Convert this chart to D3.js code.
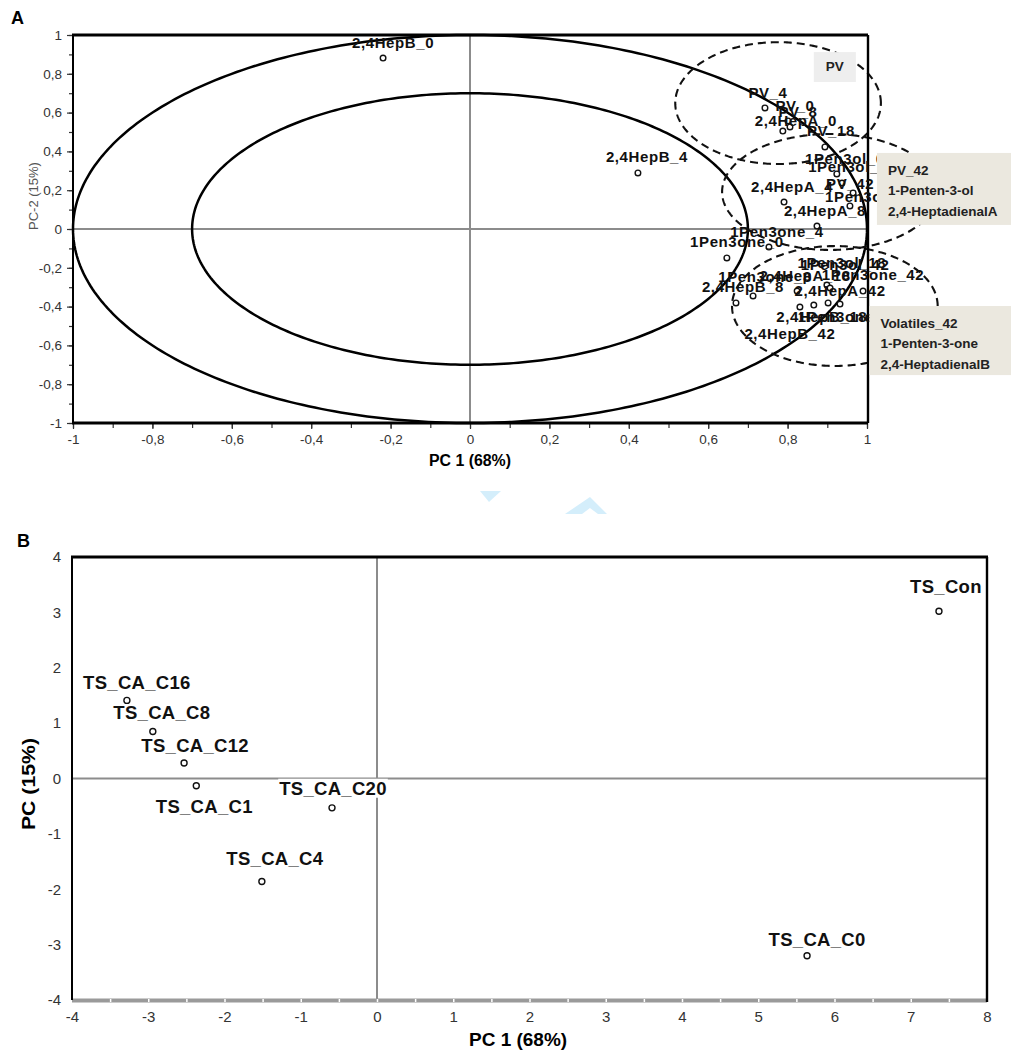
<!DOCTYPE html>
<html><head><meta charset="utf-8">
<script src="https://cdn.jsdelivr.net/npm/d3@7"></script>
<style>
body{margin:0;background:#fff}
svg{display:block}
text{font-family:"Liberation Sans",Arial,sans-serif}
</style></head>
<body><svg id="c" width="1011" height="1053"></svg>
<script>
// ---------------- DATA : panel A (loadings) ----------------
const loadingNames = ["2,4HepB_0","2,4HepB_4","PV_4","PV_0","PV_8","2,4HepA_0","PV_18",
  "1Pen3ol_0","1Pen3ol_4","2,4HepA_4","PV_42","1Pen3ol_8","2,4HepA_8","1Pen3one_4","1Pen3one_0",
  "1Pen3ol_18","1Pen3ol_42","1Pen3one_8","2,4HepA_18","1Pen3one_42","2,4HepB_8","2,4HepA_42",
  "2,4HepB_18","1Pen3one_18","2,4HepB_42"];
const loadingPC1 = [-0.219,0.423,0.743,0.801,0.806,0.788,0.894,
  0.924,0.937,0.791,0.965,0.957,0.874,0.753,0.647,
  0.899,0.907,0.713,0.824,0.990,0.670,0.902,
  0.866,0.932,0.831];
const loadingPC2 = [0.881,0.289,0.624,0.557,0.526,0.505,0.423,
  0.284,0.237,0.139,0.186,0.119,0.015,-0.093,-0.149,
  -0.289,-0.304,-0.345,-0.320,-0.320,-0.381,-0.381,
  -0.392,-0.387,-0.402];
// label nudges (px) relative to the point – layout only
const loadingLabelNudge = [[10,-14],[9,-15],[3,-14],[7,-14],[8,-14],[13,-9],[6,-15],
  [8,-14],[6,-15],[8,-14],[-3,-8],[15,-8],[8,-14],[8,-14],[10,-15],
  [15,-21],[15,-22],[12,-18],[8,-14],[10,-15],[7,-15],[12,-11],
  [8,13],[9,14],[-10,28]];
const corrCircleRadii = [1, 0.7];
const groupCx = [0.776, 0.907, 0.919];
const groupCy = [0.649, 0.191, -0.397];
const groupRx = [0.259, 0.272, 0.259];
const groupRy = [0.314, 0.299, 0.309];
const noteLines = [["PV"],["PV_42","1-Penten-3-ol","2,4-HeptadienalA"],["Volatiles_42","1-Penten-3-one","2,4-HeptadienalB"]];
const noteX0 = [0.866, 1.025, 1.006];
const noteX1 = [0.972, 1.37, 1.37];
const noteY0 = [0.912, 0.392, -0.397];
const noteY1 = [0.758, 0.021, -0.753];
const noteFill = ["#eeeeee","#ebe8df","#ebe8df"];
const ticksA = d3.range(-10, 11, 2).map(d => d / 10);
const minorTicksA = d3.range(-10, 11).map(d => d / 10);

// ---------------- DATA : panel B (scores) ----------------
const sampleNames = ["TS_Con","TS_CA_C16","TS_CA_C8","TS_CA_C12","TS_CA_C1","TS_CA_C20","TS_CA_C4","TS_CA_C0"];
const samplePC1 = [7.37,-3.28,-2.94,-2.53,-2.37,-0.59,-1.51,5.64];
const samplePC2 = [3.02,1.41,0.85,0.28,-0.13,-0.53,-1.86,-3.20];
const sampleLabelNudge = [[7,-23],[10,-16],[9,-17],[11,-16],[8,22],[1,-18],[13,-21],[10,-15]];
const ticksBx = d3.range(-4, 9);
const minorTicksBx = d3.range(-8, 17).map(d => d / 2);
const ticksBy = d3.range(-4, 5);

const fmt = d => d3.format("~g")(d).replace(".", ",").replace("\u2212", "-");
const svg = d3.select("#c");

// faint page watermark (decoration between panels)
svg.append("path").attr("d", "M480,491 L501,491 L489,502 Z").attr("fill", "#d4eefb");
svg.append("path").attr("d", "M565,514 L590,497 L607,514 L598,514 L590,508 L582,514 Z").attr("fill", "#d4eefb");

// ================= PANEL A =================
const xA = d3.scaleLinear().domain([-1, 1]).range([73, 867]);
const yA = d3.scaleLinear().domain([-1, 1]).range([423, 35]);
const gA = svg.append("g");

svg.append("text").attr("x", 11).attr("y", 24).text("A")
  .attr("font-weight", "bold").attr("font-size", 18);

// zero lines
gA.append("line").attr("x1", xA(-1)).attr("x2", xA(1)).attr("y1", yA(0)).attr("y2", yA(0))
  .attr("stroke", "#8c8c8c").attr("stroke-width", 2);
gA.append("line").attr("x1", xA(0)).attr("x2", xA(0)).attr("y1", yA(1)).attr("y2", yA(-1))
  .attr("stroke", "#8c8c8c").attr("stroke-width", 2);

// correlation circles
const angles = d3.range(0, 360, 1).map(a => a * Math.PI / 180);
corrCircleRadii.forEach(r => {
  gA.append("path")
    .attr("d", d3.line().x(a => xA(r * Math.cos(a))).y(a => yA(r * Math.sin(a))).curve(d3.curveLinearClosed)(angles))
    .attr("fill", "none").attr("stroke", "#000").attr("stroke-width", 2.5);
});

// dashed group ellipses
groupCx.forEach((cx, i) => {
  gA.append("path")
    .attr("d", d3.line().x(a => xA(cx + groupRx[i] * Math.cos(a))).y(a => yA(groupCy[i] + groupRy[i] * Math.sin(a))).curve(d3.curveLinearClosed)(angles))
    .attr("fill", "none").attr("stroke", "#111").attr("stroke-width", 2.1).attr("stroke-dasharray", "8,5");
});

// axes
const axAxMinor = gA.append("g").attr("transform", `translate(0,${yA(-1)})`)
  .call(d3.axisBottom(xA).tickValues(minorTicksA).tickSize(5).tickFormat(""));
const axAx = gA.append("g").attr("transform", `translate(0,${yA(-1)})`)
  .call(d3.axisBottom(xA).tickValues(ticksA).tickSize(6).tickPadding(5).tickFormat(fmt));
const axAyMinor = gA.append("g").attr("transform", `translate(${xA(-1)},0)`)
  .call(d3.axisLeft(yA).tickValues(minorTicksA).tickSize(4).tickFormat(""));
const axAy = gA.append("g").attr("transform", `translate(${xA(-1)},0)`)
  .call(d3.axisLeft(yA).tickValues(ticksA).tickSize(6).tickPadding(5).tickFormat(fmt));
[axAxMinor, axAx, axAyMinor, axAy].forEach(a => {
  a.select(".domain").remove();
  a.selectAll("line").attr("stroke", "#333").attr("stroke-width", 1.2);
  a.selectAll("text").attr("font-size", 13.5).attr("fill", "#333").style("font-family", "'Liberation Sans Narrow','Liberation Sans',Arial,sans-serif");
});

// frame
gA.append("line").attr("x1", xA(-1) - 1).attr("x2", xA(1) + 1).attr("y1", yA(1)).attr("y2", yA(1)).attr("stroke", "#000").attr("stroke-width", 3);
gA.append("line").attr("x1", xA(-1) - 1).attr("x2", xA(1) + 1).attr("y1", yA(-1)).attr("y2", yA(-1)).attr("stroke", "#000").attr("stroke-width", 3);
gA.append("line").attr("x1", xA(-1)).attr("x2", xA(-1)).attr("y1", yA(1)).attr("y2", yA(-1)).attr("stroke", "#000").attr("stroke-width", 2);
gA.append("line").attr("x1", xA(1) + 1).attr("x2", xA(1) + 1).attr("y1", yA(1)).attr("y2", yA(-1)).attr("stroke", "#000").attr("stroke-width", 2.4);

// axis titles
gA.append("text").attr("x", xA(0)).attr("y", 466).attr("text-anchor", "middle")
  .attr("font-weight", "bold").attr("font-size", 16).attr("textLength", 82).attr("lengthAdjust", "spacingAndGlyphs")
  .text("PC 1 (68%)");
gA.append("text").attr("transform", `translate(38,${yA(0.17)}) rotate(-90)`).attr("text-anchor", "middle")
  .attr("font-size", 13).attr("fill", "#555").text("PC-2 (15%)");

// points
loadingNames.forEach((n, i) => {
  gA.append("circle").attr("cx", xA(loadingPC1[i])).attr("cy", yA(loadingPC2[i])).attr("r", 2.8)
    .attr("fill", "#fff").attr("stroke", "#111").attr("stroke-width", 1.4);
});
loadingNames.forEach((n, i) => {
  gA.append("text").attr("x", xA(loadingPC1[i]) + loadingLabelNudge[i][0]).attr("y", yA(loadingPC2[i]) + loadingLabelNudge[i][1])
    .attr("text-anchor", "middle").attr("dominant-baseline", "middle")
    .attr("font-size", 15).attr("font-weight", "bold").attr("letter-spacing", 0.6).attr("fill", "#111")
    .text(n);
});

// annotation boxes
noteLines.forEach((lines, i) => {
  const x0 = xA(noteX0[i]), x1 = xA(noteX1[i]), y0 = yA(noteY0[i]), y1 = yA(noteY1[i]);
  gA.append("rect").attr("x", x0).attr("y", y0).attr("width", x1 - x0).attr("height", y1 - y0).attr("fill", noteFill[i]);
  if (lines.length === 1) {
    gA.append("text").attr("x", (x0 + x1) / 2).attr("y", (y0 + y1) / 2).attr("text-anchor", "middle")
      .attr("dominant-baseline", "middle").attr("font-size", 13.5).attr("font-weight", "bold").attr("fill", "#222").text(lines[0]);
  } else {
    lines.forEach((t, j) => {
      gA.append("text").attr("x", x0 + 11).attr("y", y0 + 18 + j * 20.5).attr("dominant-baseline", "middle")
        .attr("font-size", 13.5).attr("font-weight", "bold").attr("fill", "#222").text(t);
    });
  }
});

// ================= PANEL B =================
const xB = d3.scaleLinear().domain([-4, 8]).range([72, 987]);
const yB = d3.scaleLinear().domain([-4, 4]).range([1000, 557]);
const gB = svg.append("g");

svg.append("text").attr("x", 17).attr("y", 547).text("B")
  .attr("font-weight", "bold").attr("font-size", 18);

gB.append("line").attr("x1", xB(-4)).attr("x2", xB(8)).attr("y1", yB(0)).attr("y2", yB(0))
  .attr("stroke", "#8c8c8c").attr("stroke-width", 2);
gB.append("line").attr("x1", xB(0)).attr("x2", xB(0)).attr("y1", yB(4)).attr("y2", yB(-4))
  .attr("stroke", "#8c8c8c").attr("stroke-width", 2);

// bottom band (gray) with notch ticks
gB.append("line").attr("x1", xB(-4)).attr("x2", xB(8)).attr("y1", yB(-4) + 0.5).attr("y2", yB(-4) + 0.5)
  .attr("stroke", "#9a9a9a").attr("stroke-width", 4);
const bMinor = gB.append("g").attr("transform", `translate(0,${yB(-4) - 1})`)
  .call(d3.axisBottom(xB).tickValues(minorTicksBx.filter(d => d > -4 && d < 8)).tickSize(3).tickFormat(""));
bMinor.select(".domain").remove();
bMinor.selectAll("line").attr("stroke", "#fff").attr("stroke-width", 1.5);

const bx = gB.append("g").attr("transform", `translate(0,${yB(-4)})`)
  .call(d3.axisBottom(xB).tickValues(ticksBx).tickSize(0).tickPadding(11).tickFormat(fmt));
const by = gB.append("g").attr("transform", `translate(${xB(-4)},0)`)
  .call(d3.axisLeft(yB).tickValues(ticksBy).tickSize(0).tickPadding(11).tickFormat(fmt));
[bx, by].forEach(a => {
  a.select(".domain").remove();
  a.selectAll("text").attr("font-size", 15).attr("fill", "#333").style("font-family", "'Liberation Sans Narrow','Liberation Sans',Arial,sans-serif");
});

// frame
gB.append("line").attr("x1", xB(-4) - 1).attr("x2", xB(8) + 1).attr("y1", yB(4)).attr("y2", yB(4)).attr("stroke", "#000").attr("stroke-width", 3);
gB.append("line").attr("x1", xB(-4)).attr("x2", xB(-4)).attr("y1", yB(4)).attr("y2", yB(-4)).attr("stroke", "#000").attr("stroke-width", 2);
gB.append("line").attr("x1", xB(8)).attr("x2", xB(8)).attr("y1", yB(4)).attr("y2", yB(-4) + 2).attr("stroke", "#000").attr("stroke-width", 2.4);

// axis titles
gB.append("text").attr("x", xB(1.85)).attr("y", 1046).attr("text-anchor", "middle")
  .attr("font-weight", "bold").attr("font-size", 19).attr("textLength", 98).attr("lengthAdjust", "spacingAndGlyphs")
  .text("PC 1 (68%)");
gB.append("text").attr("transform", `translate(35,${yB(-0.1)}) rotate(-90)`).attr("text-anchor", "middle")
  .attr("font-weight", "bold").attr("font-size", 18).attr("textLength", 92).attr("lengthAdjust", "spacingAndGlyphs")
  .text("PC (15%)");

// labels with white background, then points
sampleNames.forEach((n, i) => {
  const g = gB.append("g");
  const t = g.append("text").attr("x", xB(samplePC1[i]) + sampleLabelNudge[i][0]).attr("y", yB(samplePC2[i]) + sampleLabelNudge[i][1])
    .attr("text-anchor", "middle").attr("dominant-baseline", "middle")
    .attr("font-size", 18.5).attr("font-weight", "bold").attr("letter-spacing", 0.3).attr("fill", "#111").text(n);
  const bb = t.node().getBBox();
  g.insert("rect", "text").attr("x", bb.x - 1).attr("y", bb.y + 1).attr("width", bb.width + 2).attr("height", bb.height - 2).attr("fill", "#fff");
});
sampleNames.forEach((n, i) => {
  gB.append("circle").attr("cx", xB(samplePC1[i])).attr("cy", yB(samplePC2[i])).attr("r", 3)
    .attr("fill", "#fff").attr("stroke", "#111").attr("stroke-width", 1.4);
});
</script></body></html>
